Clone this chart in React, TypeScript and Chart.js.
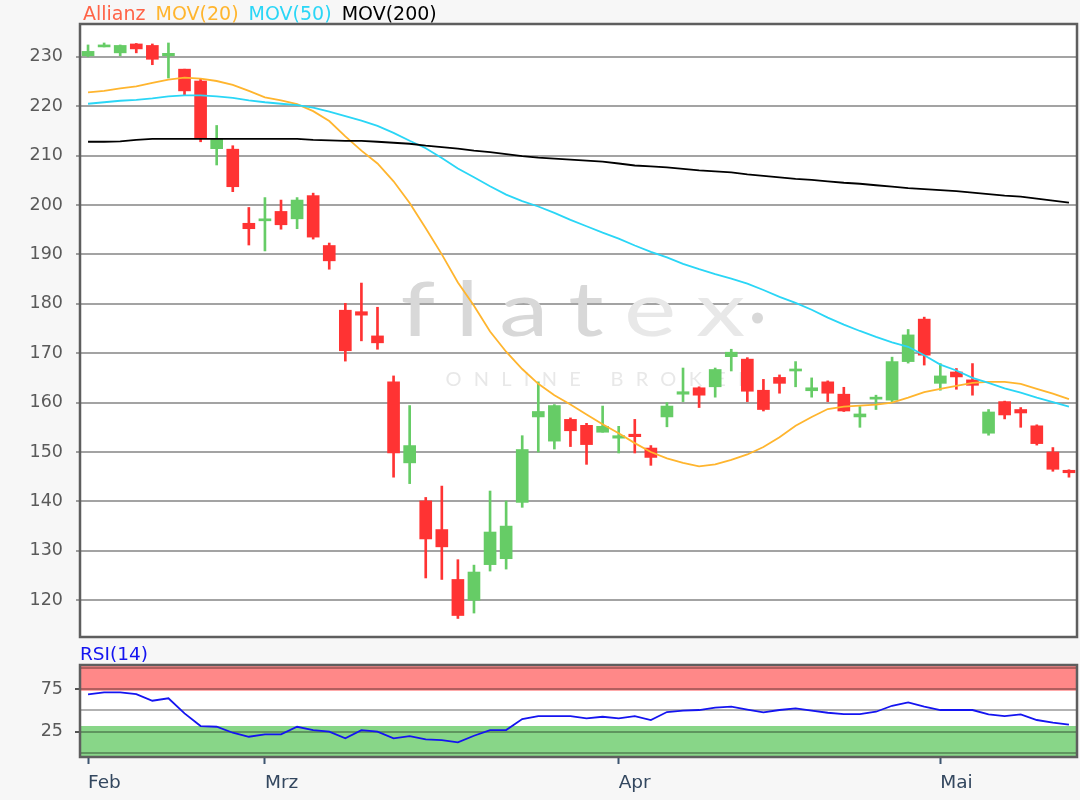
import React, { useEffect, useRef } from 'react';
import { Chart, registerables } from 'chart.js';

Chart.register(...registerables);

// ---------- data ----------
const DATES = [
  '14.02.', '17.02.', '18.02.', '19.02.', '20.02.', '21.02.', '24.02.', '25.02.', '26.02.', '27.02.', '28.02.',
  '02.03.', '03.03.', '04.03.', '05.03.', '06.03.', '09.03.', '10.03.', '11.03.', '12.03.', '13.03.',
  '16.03.', '17.03.', '18.03.', '19.03.', '20.03.', '23.03.', '24.03.', '25.03.', '26.03.', '27.03.',
  '30.03.', '31.03.',
  '01.04.', '02.04.', '03.04.', '06.04.', '07.04.', '08.04.', '09.04.', '14.04.', '15.04.', '16.04.',
  '17.04.', '20.04.', '21.04.', '22.04.', '23.04.', '24.04.', '27.04.', '28.04.', '29.04.', '30.04.',
  '04.05.', '05.05.', '06.05.', '07.05.', '08.05.', '11.05.', '12.05.', '13.05.', '14.05.',
];

const MONTH_NAMES = ['Jan', 'Feb', 'Mrz', 'Apr', 'Mai', 'Jun', 'Jul', 'Aug', 'Sep', 'Okt', 'Nov', 'Dez'];

const OPEN = [
  230.2, 232.0, 230.8, 232.6, 232.3, 230.2, 227.5, 225.1, 211.4, 211.3, 196.3,
  196.8, 198.7, 197.2, 201.9, 191.8, 178.7, 178.4, 173.5, 164.2, 147.8,
  140.1, 134.3, 124.2, 120.0, 127.2, 128.4, 139.8, 157.1, 152.2, 156.6,
  155.4, 154.0,
  152.8, 153.6, 150.8, 157.1, 161.7, 163.0, 163.2, 169.3, 168.8, 162.5,
  165.1, 166.4, 162.4, 164.2, 161.7, 157.1, 160.7, 160.5, 168.3, 176.9,
  163.9, 166.2, 164.6, 153.8, 160.2, 158.6, 155.3, 150.0, 146.3,
];
const HIGH = [
  232.4, 232.8, 232.4, 232.7, 232.6, 232.8, 227.5, 225.5, 216.1, 212.0, 199.5,
  201.5, 201.0, 201.5, 202.4, 192.3, 180.1, 184.2, 179.3, 165.4, 159.4,
  140.8, 143.1, 128.2, 127.1, 142.1, 140.1, 153.3, 164.2, 159.6, 156.9,
  155.8, 159.3,
  155.2, 156.6, 151.3, 160.0, 167.0, 163.2, 167.0, 170.8, 169.1, 164.7,
  165.6, 168.3, 165.0, 164.4, 163.1, 159.2, 161.5, 169.2, 174.8, 177.3,
  167.9, 166.9, 167.9, 158.6, 160.3, 159.0, 155.5, 150.9, 146.4,
];
const LOW = [
  230.0, 232.0, 230.2, 230.8, 228.4, 225.7, 222.3, 212.8, 208.1, 202.7, 191.9,
  190.7, 195.1, 195.2, 193.1, 187.0, 168.4, 172.5, 170.8, 144.9, 143.6,
  124.5, 124.2, 116.3, 117.4, 125.9, 126.3, 138.8, 150.0, 150.6, 151.1,
  147.5, 154.0,
  149.8, 149.8, 147.3, 155.1, 160.2, 159.0, 161.1, 166.4, 160.2, 158.3,
  161.9, 163.2, 161.1, 160.2, 158.2, 155.0, 158.6, 160.2, 168.0, 167.6,
  162.5, 162.7, 161.5, 153.4, 156.7, 155.0, 151.4, 146.1, 144.9,
];
const CLOSE = [
  231.1, 232.3, 232.3, 231.6, 229.5, 230.7, 223.1, 213.5, 213.5, 203.7, 195.2,
  197.1, 196.0, 201.0, 193.5, 188.7, 170.5, 177.7, 172.1, 149.8, 151.3,
  132.4, 130.8, 116.9, 125.7, 133.8, 135.0, 150.5, 158.2, 159.4, 154.3,
  151.5, 155.2,
  153.3, 153.1, 148.9, 159.3, 162.2, 161.5, 166.7, 170.2, 162.3, 158.6,
  163.9, 166.7, 163.0, 161.9, 158.3, 157.7, 161.1, 168.3, 173.7, 169.6,
  165.4, 165.2, 163.5, 158.1, 157.5, 157.9, 151.7, 146.5, 145.8,
];

const MOV20 = [
  222.8, 223.1, 223.6, 224.0, 224.7, 225.4, 225.8, 225.6, 225.1, 224.3, 223.1,
  221.8, 221.2, 220.4, 219.0, 217.0, 213.9, 211.0, 208.4, 204.8, 200.4,
  195.3, 190.0, 184.3, 179.6, 174.4, 170.3, 166.8, 163.8, 161.5, 159.6,
  157.6, 155.6,
  153.8, 151.8, 150.0, 148.7, 147.8, 147.1, 147.5, 148.4, 149.5, 151.0,
  153.0, 155.3, 157.1, 158.7, 159.2, 159.4, 159.6, 160.0, 161.0, 162.1,
  162.8, 163.4, 164.0, 164.2, 164.2, 163.8, 162.8, 161.8, 160.7,
];
const MOV50 = [
  220.5, 220.8, 221.1, 221.3, 221.6, 222.0, 222.2, 222.2, 222.0, 221.7, 221.2,
  220.8, 220.5, 220.2, 219.7, 218.9, 218.0, 217.1, 216.0, 214.6, 213.0,
  211.5, 209.5, 207.4, 205.6, 203.8, 202.1, 200.8, 199.7, 198.4, 197.0,
  195.7, 194.4,
  193.2, 191.8, 190.5, 189.4, 188.1, 187.0, 186.0, 185.1, 184.1, 182.8,
  181.4, 180.2, 178.8, 177.2, 175.8, 174.5, 173.3, 172.2, 171.3, 169.6,
  167.7, 166.5, 165.0, 164.0, 162.9, 162.0, 161.0, 160.1, 159.2,
];
const MOV200 = [
  212.8, 212.8, 212.9, 213.2, 213.4, 213.4, 213.4, 213.4, 213.4, 213.4, 213.4,
  213.4, 213.4, 213.4, 213.2, 213.1, 213.0, 213.0, 212.8, 212.6, 212.4,
  212.0, 211.7, 211.4, 211.0, 210.7, 210.3, 209.9, 209.6, 209.4, 209.2,
  209.0, 208.8,
  208.4, 208.0, 207.8, 207.6, 207.3, 207.0, 206.8, 206.6, 206.2, 205.9,
  205.6, 205.3, 205.1, 204.8, 204.5, 204.3, 204.0, 203.7, 203.4, 203.2,
  203.0, 202.8, 202.5, 202.2, 201.9, 201.7, 201.3, 200.9, 200.5,
];
const RSI14 = [
  68.8, 71.1, 71.1, 69.1, 61.3, 64.1, 46.5, 31.6, 30.8, 23.8, 19.1,
  21.9, 21.9, 30.8, 26.9, 25.0, 17.2, 26.9, 25.0, 17.2, 19.9,
  16.0, 15.2, 12.5, 20.3, 26.9, 26.9, 39.8, 43.3, 43.3, 43.3,
  40.6, 42.5,
  40.6, 43.3, 38.7, 48.0, 49.6, 50.4, 53.1, 54.3, 50.8, 47.7,
  50.4, 52.4, 49.6, 47.2, 45.7, 45.7, 48.4, 55.4, 59.4, 54.3,
  50.4, 50.4, 50.4, 45.3, 43.3, 45.3, 38.7, 35.6, 33.2,
];

const SERIES_NAMES = ['Allianz', 'MOV(20)', 'MOV(50)', 'MOV(200)'];
const SERIES_COLORS = ['#ff6347', '#ffb52e', '#2ad6f6', '#000000'];
const RSI_NAME = 'RSI(14)';

const PRICE_TICKS = [120, 130, 140, 150, 160, 170, 180, 190, 200, 210, 220, 230];
const PRICE_MIN = 112.55;
const PRICE_MAX = 236.64;

const RSI_TICKS = [0, 25, 50, 75, 100];
const RSI_LABELED = [25, 75];
const RSI_MIN = -4.6;
const RSI_MAX = 103.1;
const RSI_BAND_FROM = [73, -10];
const RSI_BAND_TO = [110, 31.7];
const RSI_BAND_COLORS = ['#ff8888', '#88d688'];

const UP_COLOR = '#66cc66';
const DOWN_COLOR = '#ff3333';
const FONT = '"DejaVu Sans", Verdana, sans-serif';
const PAGE_BG = '#f7f7f7';

// ---------- plugins ----------
const panelPlugin = {
  id: 'panelBg',
  beforeDraw(chart: any, _args: any, opts: any) {
    const { ctx, chartArea: a } = chart;
    ctx.save();
    ctx.fillStyle = '#ffffff';
    ctx.fillRect(a.left, a.top, a.right - a.left, a.bottom - a.top);
    const y = chart.scales.y;
    const from: number[] = opts.from || [];
    from.forEach((f: number, i: number) => {
      const top = Math.max(a.top, y.getPixelForValue(opts.to[i]));
      const bottom = Math.min(a.bottom, y.getPixelForValue(f));
      ctx.fillStyle = opts.colors[i];
      ctx.fillRect(a.left, top, a.right - a.left, bottom - top);
    });
    ctx.restore();
  },
  afterDraw(chart: any) {
    const { ctx, chartArea: a } = chart;
    ctx.save();
    ctx.strokeStyle = '#5e5e5e';
    ctx.lineWidth = 2.5;
    ctx.strokeRect(a.left, a.top, a.right - a.left, a.bottom - a.top);
    ctx.restore();
  },
};

const watermarkPlugin = {
  id: 'watermark',
  beforeDatasetsDraw(chart: any) {
    const { ctx, chartArea: a } = chart;
    const cx = (a.left + a.right) / 2;
    const stretch = 1.3;
    const x0 = cx - 178;
    const base = 336;
    ctx.save();
    ctx.textBaseline = 'alphabetic';
    ctx.font = '400 76px Lato, "Open Sans", sans-serif';
    (ctx as any).letterSpacing = '0px';
    const w1 = ctx.measureText('flat').width;
    const w2 = ctx.measureText('ex').width;
    const sp = Math.max(0, (345 / stretch - w1 - w2) / 5);
    (ctx as any).letterSpacing = sp + 'px';
    ctx.translate(x0, base);
    ctx.scale(stretch, 1);
    ctx.fillStyle = '#d8d8d8';
    ctx.fillText('flat', 0, 0);
    const wf = ctx.measureText('flat').width;
    ctx.fillStyle = '#e8e8e8';
    ctx.fillText('ex', wf, 0);
    ctx.restore();

    ctx.save();
    const wEnd = x0 + 345 + 12;
    ctx.fillStyle = '#d8d8d8';
    ctx.beginPath();
    ctx.arc(wEnd, base - 18, 5.5, 0, Math.PI * 2);
    ctx.fill();
    ctx.font = '20px Lato, "Open Sans", sans-serif';
    (ctx as any).letterSpacing = '0px';
    const wo = ctx.measureText('ONLINE BROKER').width;
    const sp2 = (305 - wo) / 12;
    (ctx as any).letterSpacing = sp2 + 'px';
    ctx.fillStyle = '#e8e8e8';
    ctx.fillText('ONLINE BROKER', x0 + 45, 386);
    ctx.restore();
  },
};

function monthStartIndices(): number[] {
  const out: number[] = [];
  let prev = '';
  DATES.forEach((d, i) => {
    const m = d.slice(3, 5);
    if (m !== prev) out.push(i);
    prev = m;
  });
  return out;
}

const fitY = (s: any) => {
  s.width = 80;
  s.paddingTop = 0;
  s.paddingBottom = 0;
};

export default function App() {
  const mainRef = useRef<HTMLCanvasElement>(null);
  const rsiRef = useRef<HTMLCanvasElement>(null);

  useEffect(() => {
    document.body.style.margin = '0';
    document.body.style.background = PAGE_BG;

    const colors = OPEN.map((o, i) => (CLOSE[i] >= o ? UP_COLOR : DOWN_COLOR));
    const bodies = OPEN.map((o, i) => [o, CLOSE[i]]);
    const wicks = LOW.map((l, i) => [l, HIGH[i]]);

    const main = new Chart(mainRef.current as HTMLCanvasElement, {
      type: 'bar',
      data: {
        labels: DATES,
        datasets: [
          { type: 'line', label: SERIES_NAMES[3], data: MOV200, borderColor: SERIES_COLORS[3], borderWidth: 1.8, pointRadius: 0, tension: 0, order: 0 } as any,
          { type: 'line', label: SERIES_NAMES[2], data: MOV50, borderColor: SERIES_COLORS[2], borderWidth: 1.8, pointRadius: 0, tension: 0, order: 0 } as any,
          { type: 'line', label: SERIES_NAMES[1], data: MOV20, borderColor: SERIES_COLORS[1], borderWidth: 1.8, pointRadius: 0, tension: 0, order: 0 } as any,
          { type: 'bar', label: SERIES_NAMES[0] + ' H/L', data: wicks, backgroundColor: colors, barThickness: 2, grouped: false, order: 2 } as any,
          { type: 'bar', label: SERIES_NAMES[0], data: bodies, backgroundColor: colors, barThickness: 12, minBarLength: 2, grouped: false, order: 1 } as any,
        ],
      },
      options: {
        responsive: false,
        animation: false,
        layout: { padding: { top: 24, right: 3, bottom: 3, left: 0 } },
        plugins: {
          legend: { display: false },
          tooltip: { enabled: false },
          panelBg: { from: [], to: [], colors: [] },
        } as any,
        scales: {
          x: { type: 'category', display: false, offset: true },
          y: {
            min: PRICE_MIN,
            max: PRICE_MAX,
            afterBuildTicks: (axis: any) => {
              axis.ticks = PRICE_TICKS.map((v) => ({ value: v }));
            },
            afterFit: fitY,
            border: { display: false },
            grid: { color: 'rgba(0,0,0,0.36)', lineWidth: 2, tickLength: 4, tickColor: 'rgba(0,0,0,0.36)' },
            ticks: { autoSkip: false, color: '#5a5a5a', font: { family: FONT, size: 17.5 }, padding: 13 },
          },
        },
      },
      plugins: [panelPlugin, watermarkPlugin],
    });

    const monthIdx = monthStartIndices();
    const rsi = new Chart(rsiRef.current as HTMLCanvasElement, {
      type: 'line',
      data: {
        labels: DATES,
        datasets: [
          { label: RSI_NAME, data: RSI14, borderColor: '#1414f0', borderWidth: 1.8, pointRadius: 0, tension: 0 },
        ],
      },
      options: {
        responsive: false,
        animation: false,
        layout: { padding: { top: 25, right: 3, bottom: 3, left: 0 } },
        plugins: {
          legend: { display: false },
          tooltip: { enabled: false },
          panelBg: { from: RSI_BAND_FROM, to: RSI_BAND_TO, colors: RSI_BAND_COLORS },
        } as any,
        scales: {
          x: {
            type: 'category',
            offset: true,
            afterBuildTicks: (axis: any) => {
              axis.ticks = monthIdx.map((i) => ({ value: i }));
            },
            afterFit: (s: any) => {
              s.height = 40;
            },
            border: { display: false },
            grid: { drawOnChartArea: false, offset: false, tickLength: 7, tickWidth: 2, tickColor: '#3d5570' },
            ticks: {
              autoSkip: false,
              maxRotation: 0,
              align: 'start',
              padding: 8,
              color: '#33475f',
              font: { family: FONT, size: 18.5 },
              callback: (value: any) => {
                const d = DATES[value as number];
                return MONTH_NAMES[parseInt(d.slice(3, 5), 10) - 1];
              },
            },
          },
          y: {
            min: RSI_MIN,
            max: RSI_MAX,
            afterBuildTicks: (axis: any) => {
              axis.ticks = RSI_TICKS.map((v) => ({ value: v }));
            },
            afterFit: fitY,
            border: { display: false },
            grid: {
              color: 'rgba(0,0,0,0.3)',
              lineWidth: 2,
              tickLength: 5,
              tickColor: (c: any) => (RSI_LABELED.includes(c.tick?.value) ? '#555555' : 'rgba(0,0,0,0)'),
            },
            ticks: {
              autoSkip: false,
              color: '#5a5a5a',
              font: { family: FONT, size: 17.5 },
              padding: 12,
              callback: (v: any) => (RSI_LABELED.includes(v) ? String(v) : ''),
            },
          },
        },
      },
      plugins: [panelPlugin],
    });

    return () => {
      main.destroy();
      rsi.destroy();
    };
  }, []);

  return (
    <div style={{ position: 'relative', width: 1080, height: 800, background: PAGE_BG, overflow: 'hidden' }}>
      <canvas ref={mainRef} width={1080} height={640} style={{ position: 'absolute', left: 0, top: 0, display: 'block' }} />
      <canvas ref={rsiRef} width={1080} height={160} style={{ position: 'absolute', left: 0, top: 640, display: 'block' }} />
      <div style={{ position: 'absolute', left: 83, top: 4, fontFamily: FONT, fontSize: 19, lineHeight: '19px', whiteSpace: 'nowrap' }}>
        {SERIES_NAMES.map((n, i) => (
          <span key={n} style={{ color: SERIES_COLORS[i], marginRight: 4 }}>
            {n}{' '}
          </span>
        ))}
      </div>
      <div style={{ position: 'absolute', left: 80, top: 645, fontFamily: FONT, fontSize: 18.5, lineHeight: '18.5px', color: '#1414f0', whiteSpace: 'nowrap' }}>
        {RSI_NAME}
      </div>
    </div>
  );
}
